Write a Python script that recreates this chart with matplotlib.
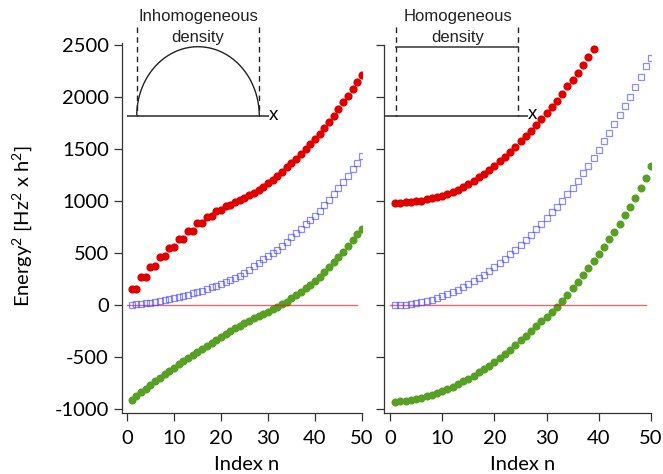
import numpy as np
import matplotlib
matplotlib.use("Agg")
import matplotlib.pyplot as plt

plt.rcParams['font.family'] = ['Lato', 'DejaVu Sans']
plt.rcParams['axes.unicode_minus'] = False
plt.rcParams['mathtext.fontset'] = 'custom'
plt.rcParams['mathtext.rm'] = 'Lato'
plt.rcParams['mathtext.it'] = 'Lato'

# ---------------- data ----------------
n_all = list(range(1, 51))
n_red_right = list(range(1, 40))

red_left = [151, 151, 266, 268, 369, 371, 463, 466, 551, 555,
            632, 637, 710, 714, 783, 788, 843, 850, 900, 910,
            950, 962, 985, 1008, 1030, 1052, 1078, 1106, 1135, 1168,
            1202, 1240, 1280, 1322, 1362, 1405, 1452, 1497, 1545, 1593,
            1645, 1700, 1757, 1815, 1878, 1945, 2005, 2075, 2140, 2210]

blue_left = [3, 6, 10, 15, 21, 28, 36, 44, 53, 63,
             74, 85, 97, 110, 124, 138, 153, 168, 185, 202,
             220, 240, 260, 282, 310, 340, 372, 405, 438, 470,
             500, 532, 570, 605, 650, 690, 732, 775, 815, 858,
             905, 960, 1010, 1065, 1120, 1180, 1240, 1305, 1368, 1430]

green_left = [-910, -874, -838, -803, -768, -733, -699, -666, -633, -601,
              -569, -540, -510, -480, -450, -420, -391, -362, -334, -306,
              -279, -252, -226, -200, -175, -151, -128, -106, -85, -64,
              -43, -21, 5, 33, 63, 94, 126, 158, 192, 230,
              270, 314, 360, 408, 458, 512, 567, 625, 680, 730]

red_right = [978, 980, 984, 989, 995, 1003, 1013, 1024, 1036, 1050,
             1066, 1087, 1108, 1132, 1160, 1190, 1225, 1262, 1300, 1337,
             1378, 1420, 1468, 1516, 1570, 1625, 1672, 1726, 1788, 1843,
             1902, 1960, 2029, 2099, 2165, 2230, 2305, 2385, 2461]

blue_right = [0, 1, 4, 9, 16, 25, 36, 49, 65, 82,
              101, 122, 145, 170, 197, 226, 257, 290, 325, 362,
              401, 442, 485, 530, 577, 625, 676, 728, 782, 838,
              893, 945, 1003, 1064, 1128, 1195, 1266, 1339, 1416, 1490,
              1570, 1651, 1737, 1820, 1907, 1997, 2090, 2189, 2291, 2375]

green_right = [-930, -926, -921, -914, -902, -890, -877, -861, -844, -826,
               -808, -788, -762, -735, -707, -678, -648, -618, -585, -550,
               -514, -476, -432, -386, -340, -294, -250, -204, -158, -112,
               -65, -18, 35, 95, 160, 225, 292, 358, 425, 490,
               560, 632, 705, 780, 862, 945, 1030, 1120, 1220, 1330]

zero_line_x = [0, 49]
zero_line_y = [0, 0]

y_ticks = [-1000, -500, 0, 500, 1000, 1500, 2000, 2500]
x_ticks = [0, 10, 20, 30, 40, 50]

RED = '#E00000'
GREEN = '#58A023'
BLUE = (0.25, 0.25, 1.0, 0.6)
ZERO = (0.88, 0.1, 0.1, 0.65)
FS = 14.5

W, H = 663, 474
fig = plt.figure(figsize=(W / 100, H / 100), dpi=100)

bottom = (H - 413) / H
height = 370 / H
axL = fig.add_axes([122 / W, bottom, 240 / W, height])
axR = fig.add_axes([384 / W, bottom, 267 / W, height])


def style(ax, xlim, show_ylabels):
    ax.set_xlim(*xlim)
    ax.set_ylim(-1038, 2516)
    for s in ['top', 'right']:
        ax.spines[s].set_visible(False)
    for s in ['left', 'bottom']:
        ax.spines[s].set_color('#333333')
        ax.spines[s].set_linewidth(0.9)
    ax.set_yticks(y_ticks)
    ax.set_xticks(x_ticks)
    ax.tick_params(axis='both', direction='out', length=6, width=0.9,
                   color='#333333', labelsize=FS)
    ax.tick_params(axis='y', pad=3.5)
    ax.tick_params(axis='x', pad=6.5)
    if not show_ylabels:
        ax.set_yticklabels([])
    ax.set_xlabel('Index n', fontsize=FS)
    ax.xaxis.set_label_coords(0.52, -0.115)
    ax.patch.set_alpha(0)


def draw(ax, nr, red, blue, green):
    ax.plot(n_all, green, 'o', color=GREEN, ms=5.8, mec=GREEN, mew=0, zorder=2)
    ax.plot(nr, red, 'o', color=RED, ms=5.9, mec=RED, mew=0, zorder=2)
    ax.plot(zero_line_x, zero_line_y, '-', color=ZERO, lw=1.0, zorder=3)
    ax.plot(n_all, blue, 's', mfc='none', mec=BLUE, ms=5.0, mew=0.9, zorder=4)


draw(axL, n_all, red_left, blue_left, green_left)
draw(axR, n_red_right, red_right, blue_right, green_right)
style(axL, (-1.06, 50), True)
style(axR, (-1.15, 50), False)
axR.spines['left'].set_bounds(-1038, 2500)

fig.text(22 / W, 1 - 226 / H, r'Energy$^{2}$ [Hz$^{2}$ x h$^{2}$]', rotation=90,
         ha='center', va='center', fontsize=FS)

# ---------------- inset sketches (pixel coordinates overlay) ----------------
ov = fig.add_axes([0, 0, 1, 1], zorder=10)
ov.set_xlim(0, W)
ov.set_ylim(H, 0)
ov.axis('off')
ov.patch.set_alpha(0)

inset_font = dict(family=['Liberation Sans', 'DejaVu Sans'], fontsize=12, color='#222222')

# left: inhomogeneous density (semi-ellipse)
cx, rx, base, top = 198, 61.3, 116, 46.7
t = np.linspace(0, np.pi, 200)
ov.plot(cx + rx * np.cos(t), base - (base - top) * np.sin(t), color='#222222', lw=1.0)
ov.plot([127.7, 268.3], [base, base], color='#555555', lw=1.4)
for xv in (cx - rx, cx + rx):
    ov.plot([xv, xv], [26.7, base], color='#222222', lw=1.0, ls=(0, (4, 3)))
ov.text(269, base - 1, 'x', ha='left', va='center', fontsize=13.5, family=['Liberation Sans'])
ov.text(cx, 16.5, 'Inhomogeneous', ha='center', va='center', **inset_font)
ov.text(cx, 37, 'density', ha='center', va='center', **inset_font)

# right: homogeneous density (rectangle)
x0r, x1r, baser, topr = 395.7, 518.3, 115.7, 46.7
ov.plot([386, 526.7], [baser, baser], color='#555555', lw=1.4)
ov.plot([x0r, x1r], [topr, topr], color='#444444', lw=1.2)
for xv in (x0r, x1r):
    ov.plot([xv, xv], [26.7, baser], color='#222222', lw=1.0, ls=(0, (4, 3)))
ov.text(527.5, baser - 1, 'x', ha='left', va='center', fontsize=13.5, family=['Liberation Sans'])
ov.text(458, 16.5, 'Homogeneous', ha='center', va='center', **inset_font)
ov.text(458, 37, 'density', ha='center', va='center', **inset_font)

fig.savefig('out.png', dpi=100)
